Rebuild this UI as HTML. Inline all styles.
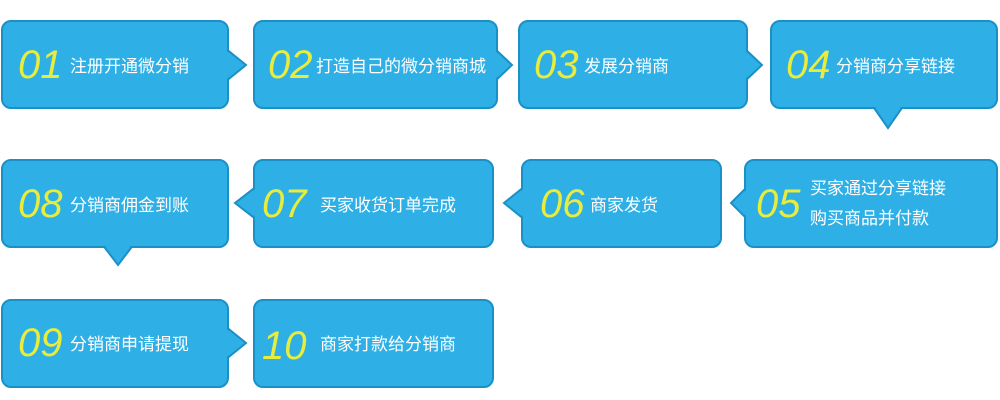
<!DOCTYPE html>
<html><head><meta charset="utf-8"><style>
body{margin:0;background:#fff;width:1000px;height:400px;overflow:hidden}
svg{display:block}
.b{fill:#2eb0e6;stroke:#1b90c6;stroke-width:2}
.t{fill:#2eb0e6}
.n{font-family:"Liberation Sans",sans-serif;font-style:italic;font-size:40px;fill:#e8ec3c}
.c{font-family:"Liberation Sans","Noto Sans CJK SC",sans-serif;font-size:17px;fill:#fff}
</style></head><body>
<svg width="1000" height="400" viewBox="0 0 1000 400">
<polygon class="b" points="225,48 246,65 225,82"/>
<rect class="b" x="2" y="21" width="226" height="87" rx="9"/>
<polygon class="t" points="224,49 244,65 224,81"/>
<text class="n" x="18" y="78">01</text><text class="c" x="70" y="72">注册开通微分销</text>

<polygon class="b" points="494,48 512,65 494,82"/>
<rect class="b" x="254" y="21" width="243" height="87" rx="9"/>
<polygon class="t" points="493,49 510,65 493,81"/>
<text class="n" x="268" y="78">02</text><text class="c" x="316" y="72">打造自己的微分销商城</text>

<polygon class="b" points="744,48 762,65 744,82"/>
<rect class="b" x="519" y="21" width="228" height="87" rx="9"/>
<polygon class="t" points="743,49 760,65 743,81"/>
<text class="n" x="534" y="78">03</text><text class="c" x="584" y="72">发展分销商</text>

<polygon class="b" points="872,105 888,128 904,105"/>
<rect class="b" x="771" y="21" width="226" height="87" rx="9"/>
<polygon class="t" points="873,104 888,126 903,104"/>
<text class="n" x="786" y="78">04</text><text class="c" x="836" y="72">分销商分享链接</text>

<polygon class="b" points="748,186 731,203 748,220"/>
<rect class="b" x="745" y="160" width="252" height="87" rx="9"/>
<polygon class="t" points="749,187 733,203 749,219"/>
<text class="n" x="756" y="217">05</text><text class="c" x="810" y="194">买家通过分享链接</text><text class="c" x="810" y="224">购买商品并付款</text>

<polygon class="b" points="525,186 504,203 525,220"/>
<rect class="b" x="522" y="160" width="199" height="87" rx="9"/>
<polygon class="t" points="526,187 506,203 526,219"/>
<text class="n" x="540" y="217">06</text><text class="c" x="590" y="211">商家发货</text>

<polygon class="b" points="257,186 235,203 257,220"/>
<rect class="b" x="254" y="160" width="239" height="87" rx="9"/>
<polygon class="t" points="258,187 237,203 258,219"/>
<text class="n" x="262" y="217">07</text><text class="c" x="320" y="211">买家收货订单完成</text>

<polygon class="b" points="102,244 118,265 134,244"/>
<rect class="b" x="2" y="160" width="226" height="87" rx="9"/>
<polygon class="t" points="103,243 118,263 133,243"/>
<text class="n" x="18" y="217">08</text><text class="c" x="70" y="211">分销商佣金到账</text>

<polygon class="b" points="225,326 246,343 225,360"/>
<rect class="b" x="2" y="300" width="226" height="87" rx="9"/>
<polygon class="t" points="224,327 244,343 224,359"/>
<text class="n" x="18" y="356">09</text><text class="c" x="70" y="350">分销商申请提现</text>

<rect class="b" x="254" y="300" width="239" height="87" rx="9"/>
<text class="n" x="262" y="359">10</text><text class="c" x="320" y="350">商家打款给分销商</text>
</svg>
</body></html>
